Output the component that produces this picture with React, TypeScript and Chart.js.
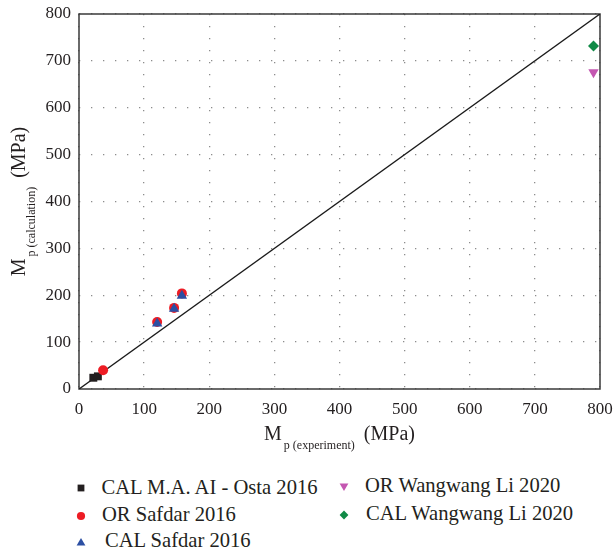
import React, { useEffect, useRef } from 'react';
import { Chart, registerables } from 'chart.js';

Chart.register(...registerables);

// ---- data ----
const TICKS = [0, 100, 200, 300, 400, 500, 600, 700, 800];
const AXIS_MIN = 0;
const AXIS_MAX = 800;

const calAlOstaX = [22, 29];
const calAlOstaY = [24, 27];

const orSafdarX = [37, 120, 146, 158];
const orSafdarY = [40, 143, 173, 204];

const calSafdarX = [120, 146, 158];
const calSafdarY = [140, 171, 199];

const orWangwangX = [790];
const orWangwangY = [676];

const calWangwangX = [790];
const calWangwangY = [732];

const lineX = [0, 800];
const lineY = [0, 800];

const SERIES_LABELS = [
  'CAL M.A. AI - Osta 2016',
  'OR Safdar 2016',
  'CAL Safdar 2016',
  'OR Wangwang Li 2020',
  'CAL Wangwang Li 2020',
];

const X_TITLE = ['M', 'p (experiment)', '(MPa)'];
const Y_TITLE = ['M', 'p (calculation)', '(MPa)'];

const COLORS = {
  black: '#231f20',
  red: '#ed1c24',
  blue: '#2c4fa3',
  pink: '#c457b1',
  green: '#108a46',
};

const FONT = "'Liberation Serif', serif";

const pts = (xs: number[], ys: number[]) => xs.map((x, i) => ({ x, y: ys[i] }));

const framePlugin = {
  id: 'frameAndTitles',
  beforeDatasetsDraw(chart: any) {
    const { ctx, chartArea } = chart;
    ctx.save();
    ctx.strokeStyle = '#3a3a3a';
    ctx.lineWidth = 1.5;
    ctx.strokeRect(chartArea.left, chartArea.top, chartArea.right - chartArea.left, chartArea.bottom - chartArea.top);
    ctx.restore();
  },
  afterDraw(chart: any) {
    const { ctx, chartArea } = chart;
    const drawTitle = (parts: string[], subOffset: number) => {
      ctx.font = `20px ${FONT}`;
      const w1 = ctx.measureText(parts[0]).width;
      const w3 = ctx.measureText(parts[2]).width;
      ctx.font = `12px ${FONT}`;
      const w2 = ctx.measureText(parts[1]).width;
      const gap1 = 2;
      const gap2 = 9;
      const total = w1 + gap1 + w2 + gap2 + w3;
      let x = -total / 2;
      ctx.textBaseline = 'alphabetic';
      ctx.textAlign = 'left';
      ctx.fillStyle = COLORS.black;
      ctx.font = `20px ${FONT}`;
      ctx.fillText(parts[0], x, 0);
      x += w1 + gap1;
      ctx.font = `12px ${FONT}`;
      ctx.fillText(parts[1], x, subOffset);
      x += w2 + gap2;
      ctx.font = `20px ${FONT}`;
      ctx.fillText(parts[2], x, 0);
    };
    ctx.save();
    ctx.translate((chartArea.left + chartArea.right) / 2, 440);
    drawTitle(X_TITLE, 9);
    ctx.restore();
    ctx.save();
    ctx.translate(25, (chartArea.top + chartArea.bottom) / 2);
    ctx.rotate(-Math.PI / 2);
    drawTitle(Y_TITLE, 10);
    ctx.restore();
  },
};

function Marker({ shape, color }: { shape: string; color: string }) {
  const s = 12;
  let el: any = null;
  if (shape === 'square') el = <rect x={2.6} y={2.6} width={6.8} height={6.8} fill={color} />;
  if (shape === 'circle') el = <circle cx={6} cy={6} r={4.1} fill={color} />;
  if (shape === 'tri') el = <polygon points="6,2 10.4,9.6 1.6,9.6" fill={color} />;
  if (shape === 'tridown') el = <polygon points="1.6,2.4 10.4,2.4 6,10" fill={color} />;
  if (shape === 'diamond') el = <polygon points="6,1.6 10.4,6 6,10.4 1.6,6" fill={color} />;
  return (
    <svg width={s} height={s} style={{ position: 'absolute', left: -6, top: -6 }}>
      {el}
    </svg>
  );
}

export default function App() {
  const canvasRef = useRef<HTMLCanvasElement | null>(null);

  useEffect(() => {
    document.body.style.margin = '0';
    const canvas = canvasRef.current;
    if (!canvas) return;
    Chart.defaults.font.family = FONT;
    const scaleCommon = {
      type: 'linear' as const,
      min: AXIS_MIN,
      max: AXIS_MAX,
      afterBuildTicks: (scale: any) => {
        scale.ticks = TICKS.map((v) => ({ value: v }));
      },
      grid: { color: '#8c8c8c', lineWidth: 1.3, drawTicks: false },
      border: { display: false, dash: [1.3, 10.7] },
    };
    const chart = new Chart(canvas, {
      type: 'scatter',
      data: {
        datasets: [
          {
            type: 'line',
            label: 'y = x',
            data: pts(lineX, lineY),
            borderColor: '#1a1a1a',
            borderWidth: 1.4,
            pointRadius: 0,
            fill: false,
            order: 10,
          } as any,
          {
            label: SERIES_LABELS[0],
            data: pts(calAlOstaX, calAlOstaY),
            pointStyle: 'rect',
            pointRadius: 5.6,
            backgroundColor: COLORS.black,
            borderColor: COLORS.black,
            borderWidth: 0,
            order: 3,
          },
          {
            label: SERIES_LABELS[1],
            data: pts(orSafdarX, orSafdarY),
            pointStyle: 'circle',
            pointRadius: 5,
            backgroundColor: COLORS.red,
            borderColor: COLORS.red,
            borderWidth: 0,
            order: 2,
          },
          {
            label: SERIES_LABELS[2],
            data: pts(calSafdarX, calSafdarY),
            pointStyle: 'triangle',
            pointRadius: 6,
            backgroundColor: COLORS.blue,
            borderColor: COLORS.blue,
            borderWidth: 0,
            order: 1,
          },
          {
            label: SERIES_LABELS[3],
            data: pts(orWangwangX, orWangwangY),
            pointStyle: 'triangle',
            rotation: 180,
            pointRadius: 6,
            backgroundColor: COLORS.pink,
            borderColor: COLORS.pink,
            borderWidth: 0,
            clip: false,
            order: 1,
          } as any,
          {
            label: SERIES_LABELS[4],
            data: pts(calWangwangX, calWangwangY),
            pointStyle: 'rectRot',
            pointRadius: 5.5,
            backgroundColor: COLORS.green,
            borderColor: COLORS.green,
            borderWidth: 0,
            clip: false,
            order: 1,
          } as any,
        ],
      },
      options: {
        animation: false,
        responsive: false,
        devicePixelRatio: 1,
        layout: { padding: { left: 0, top: 14, right: 14, bottom: 0 } },
        plugins: {
          legend: { display: false },
          tooltip: { enabled: false },
        },
        scales: {
          x: {
            ...scaleCommon,
            position: 'bottom',
            afterFit: (scale: any) => {
              scale.height = 81;
              scale.paddingLeft = 0;
              scale.paddingRight = 0;
              scale.paddingTop = 0;
              scale.paddingBottom = 0;
            },
            ticks: { font: { size: 17, family: FONT }, color: COLORS.black, padding: 10, maxRotation: 0 },
          },
          y: {
            ...scaleCommon,
            position: 'left',
            afterFit: (scale: any) => {
              scale.width = 79;
              scale.paddingLeft = 0;
              scale.paddingRight = 0;
              scale.paddingTop = 0;
              scale.paddingBottom = 0;
            },
            ticks: { font: { size: 17, family: FONT }, color: COLORS.black, padding: 8 },
          },
        } as any,
      },
      plugins: [framePlugin],
    });
    const t = window.setTimeout(() => chart.update('none'), 50);
    return () => {
      window.clearTimeout(t);
      chart.destroy();
    };
  }, []);

  const legendItems = [
    { label: SERIES_LABELS[0], shape: 'square', color: COLORS.black, mx: 80.7, cy: 488.3, tx: 101.5 },
    { label: SERIES_LABELS[1], shape: 'circle', color: COLORS.red, mx: 80.7, cy: 516, tx: 102 },
    { label: SERIES_LABELS[2], shape: 'tri', color: COLORS.blue, mx: 80.7, cy: 541.7, tx: 105 },
    { label: SERIES_LABELS[3], shape: 'tridown', color: COLORS.pink, mx: 344, cy: 487, tx: 365 },
    { label: SERIES_LABELS[4], shape: 'diamond', color: COLORS.green, mx: 344, cy: 515, tx: 366 },
  ];

  return (
    <div style={{ position: 'relative', width: 614, height: 557, overflow: 'hidden', background: '#fff' }}>
      <canvas ref={canvasRef} width={614} height={470} style={{ position: 'absolute', left: 0, top: 0, width: 614, height: 470 }} />
      {legendItems.map((it) => (
        <React.Fragment key={it.label}>
          <div style={{ position: 'absolute', left: it.mx, top: it.cy, width: 0, height: 0 }}>
            <Marker shape={it.shape} color={it.color} />
          </div>
          <div
            style={{
              position: 'absolute',
              left: it.tx,
              top: it.cy - 13.6,
              fontFamily: FONT,
              fontSize: 20.6,
              lineHeight: '24px',
              color: COLORS.black,
              whiteSpace: 'nowrap',
            }}
          >
            {it.label}
          </div>
        </React.Fragment>
      ))}
    </div>
  );
}
